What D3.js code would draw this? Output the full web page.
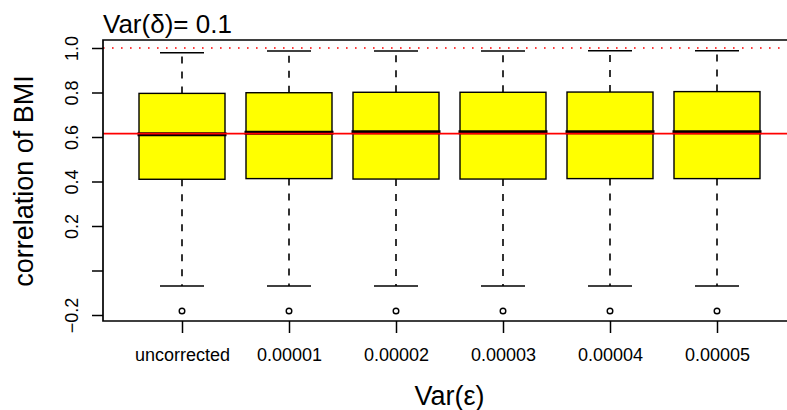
<!DOCTYPE html>
<html>
<head>
<meta charset="utf-8">
<script src="https://cdn.jsdelivr.net/npm/d3@7"></script>
<style>
  html, body { margin: 0; padding: 0; background: #fff; }
  svg { display: block; font-family: "Liberation Sans", Arial, Helvetica, sans-serif; }
</style>
</head>
<body>
<svg id="chart" width="787" height="410"></svg>
<script>
// ---- data ----
const categories = ["uncorrected", "0.00001", "0.00002", "0.00003", "0.00004", "0.00005"];
const q1Values = [0.410, 0.413, 0.411, 0.411, 0.413, 0.413];
const medianValues = [0.612, 0.619, 0.621, 0.621, 0.621, 0.621];
const q3Values = [0.796, 0.799, 0.801, 0.801, 0.802, 0.804];
const whiskerLowValues = [-0.070, -0.070, -0.070, -0.070, -0.070, -0.070];
const whiskerHighValues = [0.979, 0.987, 0.987, 0.987, 0.988, 0.988];
const outlierValues = [[-0.182], [-0.182], [-0.182], [-0.182], [-0.182], [-0.182]];
const yTickValues = [-0.2, 0, 0.2, 0.4, 0.6, 0.8, 1.0];
const yTickLabels = ["\u22120.2", "", "0.2", "0.4", "0.6", "0.8", "1.0"];
const referenceLine = 0.615;
const dottedLine = 1.0;
const titleText = "Var(\u03b4)= 0.1";
const xTitle = "Var(\u03b5)";
const yTitle = "correlation of BMI";

// ---- layout ----
const svg = d3.select("#chart");
const plotLeft = 103, plotTop = 40, plotBottom = 321, plotRight = 800;

const x = d3.scalePoint().domain(categories).range([182, 717]);
const y = d3.scaleLinear().domain([-0.2, 1.0]).range([315, 48]);
const boxHalf = 43, capHalf = 22;

const rows = categories.map((c, i) => ({
  c, q1: q1Values[i], med: medianValues[i], q3: q3Values[i],
  lo: whiskerLowValues[i], hi: whiskerHighValues[i], out: outlierValues[i]
}));

const g = svg.append("g");

// whiskers (dashed)
g.selectAll(".wh-up").data(rows).enter().append("line")
  .attr("x1", d => x(d.c)).attr("x2", d => x(d.c))
  .attr("y1", d => y(d.q3)).attr("y2", d => y(d.hi))
  .attr("stroke", "#000").attr("stroke-width", 1.6).attr("stroke-dasharray", "7,8");
g.selectAll(".wh-lo").data(rows).enter().append("line")
  .attr("x1", d => x(d.c)).attr("x2", d => x(d.c))
  .attr("y1", d => y(d.q1)).attr("y2", d => y(d.lo))
  .attr("stroke", "#000").attr("stroke-width", 1.6).attr("stroke-dasharray", "7,8");

// caps
g.selectAll(".cap-hi").data(rows).enter().append("line")
  .attr("x1", d => x(d.c) - capHalf).attr("x2", d => x(d.c) + capHalf)
  .attr("y1", d => y(d.hi)).attr("y2", d => y(d.hi))
  .attr("stroke", "#000").attr("stroke-width", 1.5);
g.selectAll(".cap-lo").data(rows).enter().append("line")
  .attr("x1", d => x(d.c) - capHalf).attr("x2", d => x(d.c) + capHalf)
  .attr("y1", d => y(d.lo)).attr("y2", d => y(d.lo))
  .attr("stroke", "#000").attr("stroke-width", 1.5);

// boxes
g.selectAll(".box").data(rows).enter().append("rect")
  .attr("x", d => x(d.c) - boxHalf).attr("width", boxHalf * 2)
  .attr("y", d => y(d.q3)).attr("height", d => y(d.q1) - y(d.q3))
  .attr("fill", "#ffff00").attr("stroke", "#000").attr("stroke-width", 1.4);

// medians
g.selectAll(".med").data(rows).enter().append("line")
  .attr("x1", d => x(d.c) - boxHalf - 1.5).attr("x2", d => x(d.c) + boxHalf + 1.5)
  .attr("y1", d => y(d.med)).attr("y2", d => y(d.med))
  .attr("stroke", "#000").attr("stroke-width", 4);

// outliers
rows.forEach(d => {
  g.selectAll(null).data(d.out).enter().append("circle")
    .attr("cx", x(d.c)).attr("cy", v => y(v)).attr("r", 2.8)
    .attr("fill", "none").attr("stroke", "#000").attr("stroke-width", 1.4);
});

// reference lines
g.append("line").attr("x1", plotLeft).attr("x2", plotRight)
  .attr("y1", y(referenceLine)).attr("y2", y(referenceLine))
  .attr("stroke", "#ff0000").attr("stroke-width", 1.6);
g.append("line").attr("x1", plotLeft).attr("x2", plotRight)
  .attr("y1", y(dottedLine)).attr("y2", y(dottedLine))
  .attr("stroke", "#ff0000").attr("stroke-width", 1.6).attr("stroke-dasharray", "1.6,7.4");

// frame (box) - right side beyond view
svg.append("path")
  .attr("d", `M${plotRight},${plotTop}H${plotLeft}V${plotBottom}H${plotRight}`)
  .attr("fill", "none").attr("stroke", "#000").attr("stroke-width", 1.7);

// y axis
const yAxis = d3.axisLeft(y).tickValues(yTickValues)
  .tickFormat((d, i) => yTickLabels[i]).tickSize(11).tickPadding(0);
const yg = svg.append("g").attr("transform", `translate(${plotLeft},0)`).call(yAxis);
yg.select(".domain").remove();
yg.selectAll(".tick line").attr("stroke", "#000").attr("stroke-width", 1.5);
yg.selectAll(".tick text")
  .attr("x", null).attr("dy", null)
  .attr("transform", "translate(-25,0) rotate(-90)")
  .attr("text-anchor", "middle")
  .attr("font-size", 18).attr("fill", "#000")
  .attr("font-family", "Liberation Sans, Arial, sans-serif");

// x axis
const xAxis = d3.axisBottom(x).tickSize(12).tickPadding(0);
const xg = svg.append("g").attr("transform", `translate(0,${plotBottom})`).call(xAxis);
xg.select(".domain").remove();
xg.selectAll(".tick line").attr("stroke", "#000").attr("stroke-width", 1.5);
xg.selectAll(".tick text").attr("y", 40).attr("dy", null)
  .attr("font-size", 18).attr("fill", "#000")
  .attr("font-family", "Liberation Sans, Arial, sans-serif");

// titles
svg.append("text").attr("x", plotLeft).attr("y", 33)
  .attr("font-size", 26).attr("fill", "#000").text(titleText);
svg.append("text").attr("x", 449.5).attr("y", 405).attr("text-anchor", "middle")
  .attr("font-size", 27).attr("fill", "#000").text(xTitle);
svg.append("text").attr("transform", "translate(33,181) rotate(-90)")
  .attr("text-anchor", "middle").attr("font-size", 27).attr("fill", "#000").text(yTitle);
</script>
</body>
</html>
